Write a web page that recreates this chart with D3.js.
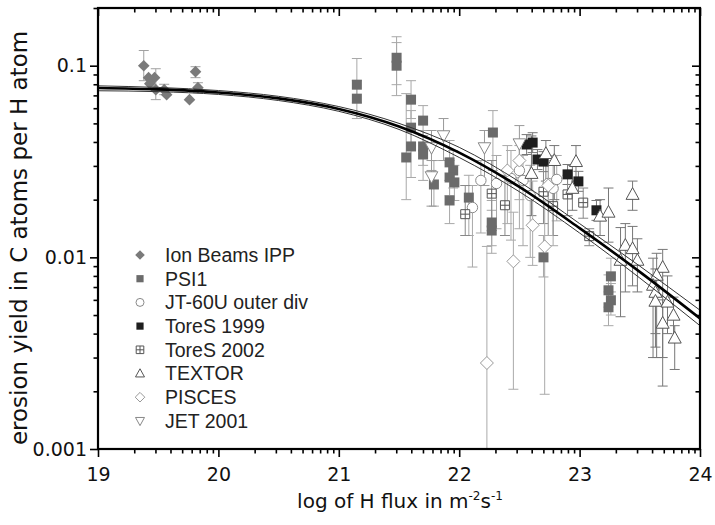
<!DOCTYPE html>
<html><head><meta charset="utf-8">
<script src="https://cdn.jsdelivr.net/npm/d3@7"></script>
<style>body{margin:0;background:#fff}</style>
</head><body><svg id="c" width="715" height="525"></svg>
<script>
// ---- data ----
const xTicks=[19,20,21,22,23,24];
const yTicks=[0.001,0.01,0.1];
const yTickLabels=["0.001","0.01","0.1"];
const seriesNames=["Ion Beams IPP","PSI1","JT-60U outer div","ToreS 1999","ToreS 2002","TEXTOR","PISCES","JET 2001"];
// each row: [log10 flux, yield, error low, error high]
const ionBeams=[
[19.38,0.100,0.0835,0.120],[19.42,0.0866,null,null],[19.47,0.0866,null,null],
[19.43,0.0806,null,null],[19.48,0.0750,0.0665,0.0964],[19.55,0.0750,0.0706,0.0800],
[19.57,0.0706,null,null],[19.76,0.0665,null,null],[19.81,0.0931,0.0866,0.0988],
[19.83,0.0768,0.0723,0.0815]];
const psi1=[
[21.15,0.0796,0.0640,0.109],[21.15,0.0673,0.0530,0.0835],[21.48,0.110,0.0796,0.1416],
[21.48,0.100,0.0698,0.132],[21.60,0.0665,0.0530,0.0835],[21.60,0.0475,0.0383,0.0583],
[21.60,0.0379,0.0261,0.0487],[21.56,0.0332,0.0200,0.0715],[21.70,0.0517,0.0432,0.0619],
[21.70,0.0379,0.0302,0.0459],[21.70,0.0344,0.0252,0.0432],[21.79,0.0240,0.0185,0.0320],
[21.92,0.0313,0.0252,0.0407],[21.95,0.0284,0.0230,0.0361],[21.92,0.0261,0.0210,0.0320],
[21.96,0.0246,0.0198,0.0302],[21.92,0.0198,0.0150,0.0252],[22.08,0.0205,0.0130,0.0268],
[22.28,0.0448,0.0284,0.0583],[22.27,0.0152,0.0115,0.0198],[22.27,0.0138,0.0105,0.0176],
[22.70,0.0100,0.0079,0.0130],[23.26,0.00796,0.0066,0.0099],[23.24,0.00673,0.0055,0.0081],
[23.26,0.00597,0.0050,0.0073],[23.24,0.00549,0.0044,0.0066]];
const jt60=[
[22.11,0.0182,0.0089,0.0237],[22.18,0.0252,0.0134,0.0320],[22.31,0.0243,0.0141,0.0340],
[22.43,0.0258,0.0123,0.0361],[22.50,0.0284,0.0141,0.0383],[22.53,0.0252,0.0115,0.0340],
[22.59,0.0210,0.0100,0.0302],[22.74,0.0243,0.0130,0.0340],[22.78,0.0229,0.0115,0.0320],
[22.81,0.0255,0.0155,0.0340]];
const tores1999=[
[22.56,0.0388,0.0344,0.0437],[22.61,0.0397,0.0352,0.0447],[22.65,0.0324,0.0287,0.0365],
[22.70,0.0316,0.0280,0.0356],[22.90,0.0271,0.0240,0.0305],[22.99,0.0249,0.0221,0.0281],
[23.14,0.0176,0.0156,0.0198]];
const tores2002=[
[22.05,0.0168,0.0130,0.0237],[22.27,0.0215,0.0138,0.0320],[22.38,0.0187,0.0130,0.0268],
[22.70,0.0220,0.0150,0.0302],[22.78,0.0185,0.0130,0.0252],[22.90,0.0213,0.0165,0.0268],
[23.03,0.0193,0.0160,0.0230],[23.08,0.0129,0.0115,0.0141]];
const textor=[
[22.60,0.0274,0.0165,0.0430],[22.72,0.0348,0.0250,0.0407],[22.79,0.0320,0.0200,0.0383],
[22.97,0.0316,0.0250,0.0383],[22.94,0.0229,0.0176,0.0302],[23.17,0.0164,0.0130,0.0200],
[23.24,0.0172,0.0120,0.0230],[23.44,0.0213,0.0176,0.0250],[23.34,0.00965,0.0049,0.0143],
[23.38,0.01155,0.0066,0.0150],[23.44,0.0111,0.0071,0.0145],[23.48,0.00965,0.0066,0.0125],
[23.69,0.00887,0.00213,0.0110],[23.64,0.00806,0.0030,0.0105],[23.61,0.00715,0.0030,0.0099],
[23.63,0.00657,0.0040,0.0087],[23.63,0.0059,0.0034,0.0080],[23.73,0.00584,0.0040,0.0080],
[23.78,0.00499,0.0036,0.0062],[23.69,0.00453,0.0030,0.0060],[23.79,0.00379,0.0026,0.0044]];
const pisces=[
[22.23,0.00281,0.0005,0.0114],[22.40,0.0284,0.0150,0.0383],[22.45,0.00953,0.00205,0.0172],
[22.50,0.0320,0.0200,0.0407],[22.61,0.0147,0.00908,0.0250],[22.71,0.0114,0.00193,0.0197],
[22.74,0.0237,0.0130,0.0340]];
const jet2001=[
[21.77,0.0374,0.0284,0.0459],[21.87,0.0432,0.0320,0.0530],[21.77,0.0264,0.0185,0.0320],
[22.21,0.0374,0.0237,0.0459],[22.50,0.0392,0.0260,0.0487]];
// fitted curve with its band, read at these fluxes
const fitX=[19,19.5,20,20.5,21,21.5,22,22.5,23,23.5,24];
const fitY=[0.0765,0.0752,0.0725,0.0675,0.0595,0.0482,0.0352,0.0233,0.0142,0.0084,0.0048];
const fitUpper=[0.0785,0.0770,0.0742,0.0692,0.0612,0.0500,0.0375,0.0248,0.0150,0.0090,0.0053];
const fitLower=[0.0740,0.0732,0.0708,0.0658,0.0578,0.0465,0.0332,0.0220,0.0134,0.0078,0.0044];

// ---- chart ----
const L=98,R=700,T=8,B=449;
const svg=d3.select("#c");
const x=d3.scaleLinear().domain([19,24]).range([L,R]);
const y=d3.scaleLog().domain([0.001,0.2]).range([B,T]);

const shapes={
 diamond:(s)=>`M0,${-s}L${s},0L0,${s}L${-s},0Z`,
 square:(s)=>`M${-s},${-s}H${s}V${s}H${-s}Z`,
 xsquare:(s)=>`M${-s},${-s}H${s}V${s}H${-s}ZM${-s},0H${s}M0,${-s}V${s}`,
 circle:(s)=>`M${s},0A${s},${s} 0 1,1 ${-s},0A${s},${s} 0 1,1 ${s},0Z`,
 tri:(s)=>`M0,${-s*1.1}L${s*1.05},${s*0.8}L${-s*1.05},${s*0.8}Z`,
 tridown:(s)=>`M0,${s*1.1}L${s*1.05},${-s*0.8}L${-s*1.05},${-s*0.8}Z`
};
const styles=[
 {data:ionBeams,shape:"diamond",size:5.8,fill:"#7a7a7a",stroke:"none",err:"#a0a0a0",ls:4.8},
 {data:psi1,shape:"square",size:5,fill:"#6b6b6b",stroke:"none",err:"#a8a8a8",ls:3.6},
 {data:jt60,shape:"circle",size:5.2,fill:"#fff",stroke:"#8a8a8a",err:"#a8a8a8",ls:4},
 {data:tores1999,shape:"square",size:5,fill:"#1e1e1e",stroke:"none",err:"#777",ls:3.6},
 {data:tores2002,shape:"xsquare",size:4.5,fill:"#fff",stroke:"#555",err:"#888",ls:3.8},
 {data:textor,shape:"tri",size:6.2,fill:"#fff",stroke:"#555",err:"#777",ls:4.3},
 {data:pisces,shape:"diamond",size:6.5,fill:"#fff",stroke:"#999",err:"#aaa",ls:4.8},
 {data:jet2001,shape:"tridown",size:6,fill:"#fff",stroke:"#888",err:"#999",ls:4.3}
];

svg.append("clipPath").attr("id","clip").append("rect").attr("x",L).attr("y",T).attr("width",R-L).attr("height",B-T);
const plot=svg.append("g").attr("clip-path","url(#clip)");

// error bars
styles.forEach(st=>{
 const g=plot.append("g").attr("stroke",st.err).attr("stroke-width",1).attr("fill","none");
 st.data.filter(d=>d[2]!=null).forEach(d=>{
  const cx=x(d[0]);
  g.append("line").attr("x1",cx).attr("x2",cx).attr("y1",y(d[2])).attr("y2",y(d[3]));
  g.append("line").attr("x1",cx-5).attr("x2",cx+5).attr("y1",y(d[2])).attr("y2",y(d[2]));
  g.append("line").attr("x1",cx-5).attr("x2",cx+5).attr("y1",y(d[3])).attr("y2",y(d[3]));
 });
});
// markers
styles.forEach(st=>{
 plot.append("g").selectAll("path").data(st.data).join("path")
  .attr("transform",d=>`translate(${x(d[0])},${y(d[1])})`)
  .attr("d",shapes[st.shape](st.size))
  .attr("fill",st.fill).attr("stroke",st.stroke).attr("stroke-width",1);
});
// fit curves
const line=(arr)=>d3.line().curve(d3.curveMonotoneX).x((d,i)=>x(fitX[i])).y(d=>y(d))(arr);
plot.append("path").attr("d",line(fitUpper)).attr("fill","none").attr("stroke","#333").attr("stroke-width",1);
plot.append("path").attr("d",line(fitLower)).attr("fill","none").attr("stroke","#333").attr("stroke-width",1);
plot.append("path").attr("d",line(fitY)).attr("fill","none").attr("stroke","#000").attr("stroke-width",2.6);

// axes
const minorX=[];for(let i=19;i<24;i++)for(let k=2;k<=9;k++)minorX.push(i+Math.log10(k));
const minorY=[];[0.001,0.01,0.1].forEach(b=>{for(let k=2;k<=9;k++){const v=b*k;if(v<=0.2+1e-9)minorY.push(v);}});
const tickFont="DejaVu Sans";
function styleAxis(g){g.select(".domain").remove();g.selectAll(".tick line").attr("stroke","#000").attr("stroke-width",1.6);}
const gb=svg.append("g").attr("transform",`translate(0,${B})`)
 .call(d3.axisBottom(x).tickValues(xTicks).tickSize(8).tickPadding(11).tickFormat(d3.format("d")));
gb.call(styleAxis);gb.selectAll("text").attr("font-family",tickFont).attr("font-size",19).attr("fill","#111");
svg.append("g").attr("transform",`translate(0,${B})`).call(d3.axisBottom(x).tickValues(minorX).tickSize(4.5).tickFormat("")).call(styleAxis);
svg.append("g").attr("transform",`translate(0,${T})`).call(d3.axisTop(x).tickValues(xTicks).tickSize(-8).tickFormat("")).call(styleAxis);
svg.append("g").attr("transform",`translate(0,${T})`).call(d3.axisTop(x).tickValues(minorX).tickSize(-4.5).tickFormat("")).call(styleAxis);
const gl=svg.append("g").attr("transform",`translate(${L},0)`)
 .call(d3.axisLeft(y).tickValues(yTicks).tickSize(8).tickPadding(3).tickFormat((d,i)=>yTickLabels[i]));
gl.call(styleAxis);gl.selectAll("text").attr("font-family",tickFont).attr("font-size",19).attr("fill","#111");
svg.append("g").attr("transform",`translate(${L},0)`).call(d3.axisLeft(y).tickValues(minorY).tickSize(4.5).tickFormat("")).call(styleAxis);
svg.append("g").attr("transform",`translate(${R},0)`).call(d3.axisRight(y).tickValues(yTicks).tickSize(-8).tickFormat("")).call(styleAxis);
svg.append("g").attr("transform",`translate(${R},0)`).call(d3.axisRight(y).tickValues(minorY).tickSize(-4.5).tickFormat("")).call(styleAxis);
// frame
svg.append("rect").attr("x",L).attr("y",T).attr("width",R-L).attr("height",B-T).attr("fill","none").attr("stroke","#000").attr("stroke-width",2.2);

// legend
const lg=svg.append("g");
styles.forEach((st,i)=>{
 const cy=255+i*23.7;
 lg.append("path").attr("transform",`translate(140,${cy})`).attr("d",shapes[st.shape](st.ls))
  .attr("fill",st.fill).attr("stroke",st.stroke==="none"?"none":st.stroke).attr("stroke-width",1);
 lg.append("text").attr("x",165).attr("y",cy).attr("dy","0.35em").attr("font-family","Liberation Sans, Arial, sans-serif")
  .attr("font-size",19.5).attr("fill","#222").text(seriesNames[i]);
});

// axis titles
const xt=svg.append("text").attr("x",400).attr("y",508).attr("text-anchor","middle")
 .attr("font-family",tickFont).attr("font-size",20).attr("fill","#111");
xt.append("tspan").text("log of H flux in m");
xt.append("tspan").attr("font-size",12).attr("dy",-8).text("-2");
xt.append("tspan").attr("dy",8).text("s");
xt.append("tspan").attr("font-size",12).attr("dy",-8).text("-1");
svg.append("text").attr("transform","translate(27,238) rotate(-90)").attr("text-anchor","middle")
 .attr("font-family",tickFont).attr("font-size",23).attr("fill","#111").text("erosion yield in C atoms per H atom");
</script></body></html>
